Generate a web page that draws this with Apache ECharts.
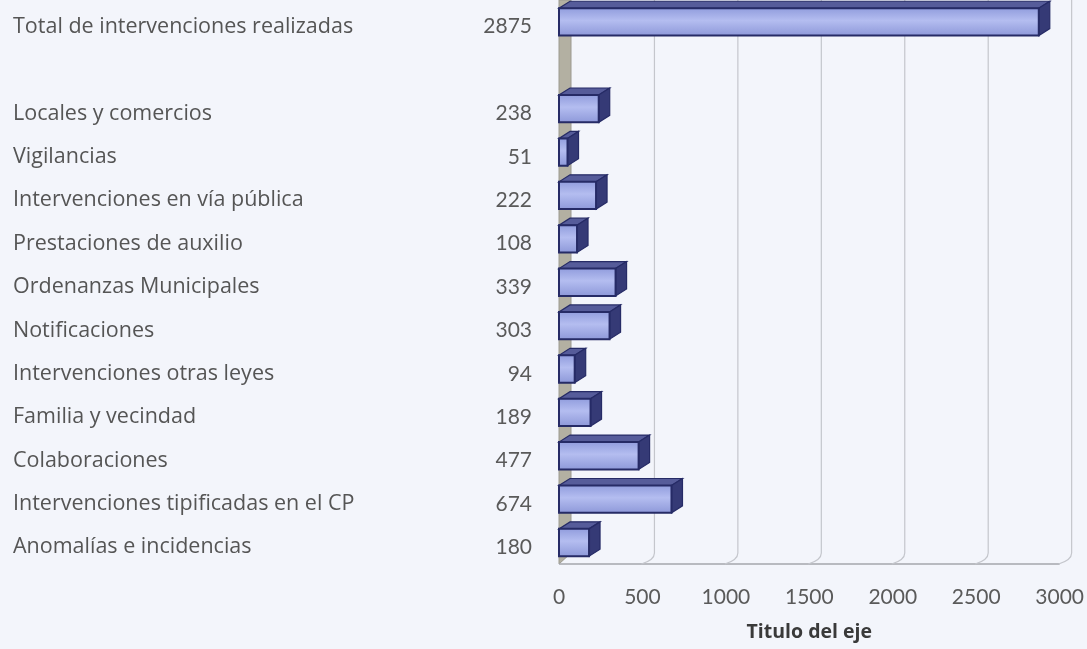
<!DOCTYPE html>
<html>
<head>
<meta charset="utf-8">
<script src="https://cdn.jsdelivr.net/npm/echarts@6/dist/echarts.min.js"></script>
<style>
  html, body { margin: 0; padding: 0; background: #f3f5fb; }
  #chart { width: 1087px; height: 649px; }
</style>
</head>
<body>
<div id="chart"></div>
<script>
// Categories from top to bottom (the empty entry is a spacer row)
const categories = [
  'Total de intervenciones realizadas',
  '',
  'Locales y comercios',
  'Vigilancias',
  'Intervenciones en vía pública',
  'Prestaciones de auxilio',
  'Ordenanzas Municipales',
  'Notificaciones',
  'Intervenciones otras leyes',
  'Familia y vecindad',
  'Colaboraciones',
  'Intervenciones tipificadas en el CP',
  'Anomalías e incidencias'
];
const values = [2875, null, 238, 51, 222, 108, 339, 303, 94, 189, 477, 674, 180];
const xTicks = [0, 500, 1000, 1500, 2000, 2500, 3000];
const axisTitle = 'Titulo del eje';

// 3D depth of boxes and walls
const DX = 11, DY = 7;

const boxData = [];
values.forEach((v, i) => { if (v !== null) boxData.push([v, i]); });
const tickData = xTicks.map(t => [t, 0]);

function renderBox(params, api) {
  const v = api.value(0), cat = api.value(1);
  const p0 = api.coord([0, cat]);
  const p1 = api.coord([v, cat]);
  const band = api.size([0, 1])[1];
  const h = band * 0.63;
  const yc = p0[1] - band * 0.11;
  const yT = yc - h / 2, yB = yc + h / 2;
  const x0 = p0[0], x1 = p1[0];
  const edge = '#262b66';
  return {
    type: 'group',
    children: [
      { type: 'polygon', shape: { points: [[x0, yT], [x1, yT], [x1 + DX, yT - DY], [x0 + DX, yT - DY]] },
        style: { fill: '#565c9a', stroke: edge, lineWidth: 1.2 } },
      { type: 'polygon', shape: { points: [[x1, yT], [x1 + DX, yT - DY], [x1 + DX, yB - DY], [x1, yB]] },
        style: { fill: '#353a76', stroke: edge, lineWidth: 1.2 } },
      { type: 'rect', shape: { x: x0, y: yT, width: x1 - x0, height: h },
        style: {
          fill: new echarts.graphic.LinearGradient(0, 0, 0, 1, [
            { offset: 0, color: '#8f9bdc' },
            { offset: 0.45, color: '#b4bdf0' },
            { offset: 1, color: '#8c97d8' }
          ]),
          stroke: edge, lineWidth: 2
        } }
    ]
  };
}

function renderWall(params, api) {
  const t = api.value(0);
  const cs = params.coordSys;
  const x = api.coord([t, 0])[0];
  const floorY = cs.y + cs.height - 5;
  const top = 0;
  const children = [];
  if (t === 0) {
    // left side wall
    children.push({ type: 'polygon',
      shape: { points: [[x, top], [x + DX + 1, top], [x + DX + 1, floorY - DY - 4], [x, floorY]] },
      style: { fill: '#b3b0a2', stroke: '#9c9a90', lineWidth: 1 } });
    // floor front edge
    const xEnd = api.coord([xTicks[xTicks.length - 1], 0])[0];
    children.push({ type: 'line', shape: { x1: x, y1: floorY, x2: xEnd, y2: floorY },
      style: { stroke: '#a4a6ad', lineWidth: 1.5 } });
  } else {
    children.push({ type: 'path',
      shape: { pathData: 'M' + (x + DX + 1) + ' ' + top + ' L' + (x + DX + 1) + ' ' + (floorY - DY - 4) +
        ' Q' + (x + DX + 1) + ' ' + (floorY - 4) + ' ' + (x - 1) + ' ' + floorY },
      style: { fill: null, stroke: '#c4c6cc', lineWidth: 1.2 } });
  }
  return { type: 'group', children };
}

const chart = echarts.init(document.getElementById('chart'));
chart.setOption({
  backgroundColor: '#f3f5fb',
  animation: false,
  grid: { left: 559, right: 24, top: 5, bottom: 80 },
  xAxis: {
    type: 'value', min: 0, max: 3000, interval: 500,
    axisLine: { show: false }, axisTick: { show: false }, splitLine: { show: false },
    axisLabel: { fontFamily: 'Lato', fontSize: 21, color: '#5a5a5a', margin: 18,
      formatter: v => String(v) },
    name: axisTitle, nameLocation: 'middle', nameGap: 53,
    nameTextStyle: { fontFamily: 'Open Sans', fontSize: 19.5, fontWeight: 'bold', color: '#3a3a3a' }
  },
  yAxis: [
    {
      type: 'category', data: categories, inverse: true,
      axisLine: { show: false }, axisTick: { show: false }, splitLine: { show: false },
      axisLabel: { align: 'left', margin: 546, fontFamily: 'Open Sans', fontSize: 21.5, color: '#555555' }
    },
    {
      type: 'category', data: categories, inverse: true, position: 'left',
      axisLine: { show: false }, axisTick: { show: false }, splitLine: { show: false },
      axisLabel: {
        margin: 27, fontFamily: 'Lato', fontSize: 21, color: '#5a5a5a',
        formatter: (val, idx) => (values[idx] === null ? '' : String(values[idx]))
      }
    }
  ],
  series: [
    { type: 'custom', renderItem: renderWall, data: tickData, encode: { x: 0, y: 1 }, silent: true, z: 1 },
    { type: 'custom', renderItem: renderBox, data: boxData, encode: { x: 0, y: 1 }, z: 2 }
  ]
});
</script>
</body>
</html>
